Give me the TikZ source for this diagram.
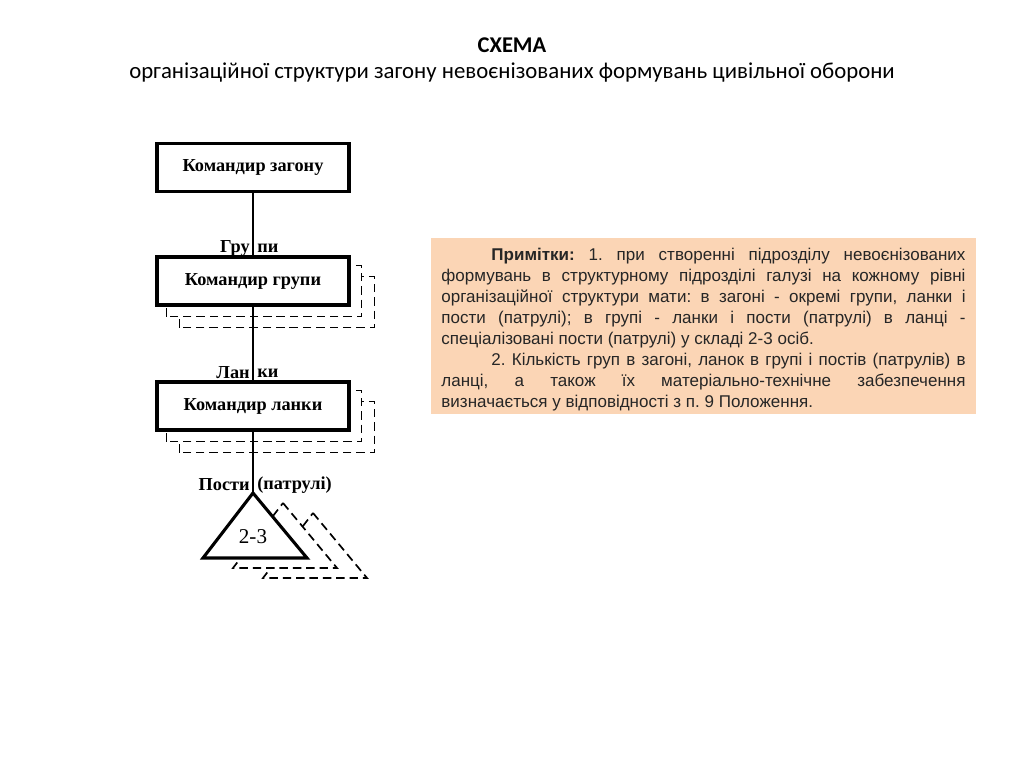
\documentclass[tikz,border=0pt]{standalone}
\usepackage{fontspec}
\setmainfont{Liberation Serif}
\newfontfamily\titlefont{Carlito}
\newfontfamily\notefont{Liberation Sans}
\usetikzlibrary{backgrounds}
\definecolor{notefill}{RGB}{251,213,181}

\begin{document}
\begin{tikzpicture}[
  x=0.025cm, y=-0.025cm,
  cmd/.style={draw, line width=2.2pt, fill=white, minimum width=4.8cm,
              minimum height=1.2cm, inner sep=0pt,
              font=\bfseries\fontsize{13}{15}\selectfont},
  shad/.style={draw, line width=1.2pt, dash pattern=on 6pt off 3.5pt, fill=white},
  link/.style={line width=1pt},
  lab/.style={font=\bfseries\fontsize{13}{15}\selectfont, inner sep=0pt},
  note/.style={fill=notefill, inner xsep=0.26cm, inner ysep=0pt, text=black!85,
               font=\notefont\fontsize{12.1}{14.9}\selectfont\frenchspacing}
]
\useasboundingbox (0,0) rectangle (1024,768);

% title
\node[font=\titlefont\bfseries\fontsize{16}{19}\selectfont] (title) at (512,45) {СХЕМА};
\node[font=\titlefont\fontsize{16.2}{19}\selectfont] (subtitle) at (512,73)
  {організаційної структури загону невоєнізованих формувань цивільної оборони};

% commanders
\node[cmd] (zag) at (253,167.5) {Командир загону};
\node[cmd] (grp) at (253,281)   {Командир групи};
\node[cmd] (lan) at (253,406)   {Командир ланки};
\coordinate (apex) at (253,493);

% dashed copies behind
\begin{scope}[on background layer]
  \foreach \b in {grp,lan}{
    \draw[shad] ([shift={(24,21)}]\b.south west) rectangle ([shift={(24,21)}]\b.north east);
    \draw[shad] ([shift={(11,10)}]\b.south west) rectangle ([shift={(11,10)}]\b.north east);
  }
  \foreach \dx/\dy in {60/20,30/10}
    \draw[shad] ([shift={(\dx,\dy)}]apex) -- ++(54,65) -- ++(-104,0) -- cycle;
\end{scope}

% posts
\draw[line width=2.2pt, fill=white] (apex) -- ++(54,65) -- ++(-104,0) -- cycle;
\node[font=\fontsize{15}{17}\selectfont] (post) at (253,537) {2-3};

% links
\draw[link] (zag) -- (grp);
\draw[link] (grp) -- (lan);
\draw[link] (lan) -- (apex);

% level labels
\node[lab, anchor=east] (gru) at (250,248) {Гру};
\node[lab, anchor=west] (pi)  at (257,248) {пи};
\node[lab, anchor=east] (la)  at (250,373) {Лан};
\node[lab, anchor=west] (ki)  at (257,373) {ки};
\node[lab, anchor=east] (po)  at (250,485) {Пости};
\node[lab, anchor=west] (pa)  at (257,485) {(патрулі)};

% notes
\node[note, anchor=north] (note) at (703.5,237.3) {\parbox[t][4.4cm][t]{13.1cm}{%
\rule{0pt}{16.5pt}\hspace*{1.25cm}\textbf{Примітки:} 1. при створенні підрозділу невоєнізованих\linebreak
формувань в структурному підрозділі галузі на кожному рівні\linebreak
організаційної структури мати: в загоні - окремі групи, ланки і\linebreak
пости (патрулі); в групі - ланки і пости (патрулі) в ланці -\linebreak
спеціалізовані пости (патрулі) у складі 2-3 осіб.\par
\hspace*{1.25cm}2. Кількість груп в загоні, ланок в групі і постів (патрулів) в\linebreak
ланці, а також їх матеріально-технічне забезпечення\linebreak
визначається у відповідності з п. 9 Положення.}};

\end{tikzpicture}
\end{document}
